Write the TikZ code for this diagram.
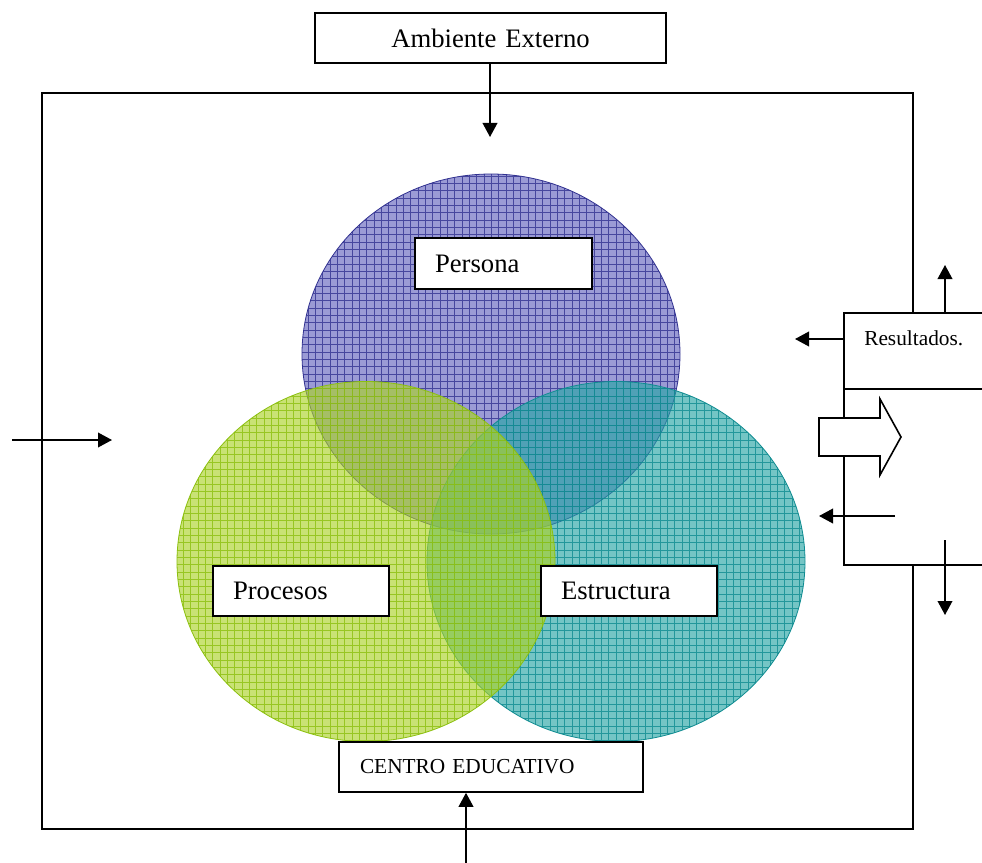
\documentclass[tikz,border=0pt]{standalone}
\usepackage{fontspec}
\setmainfont{Liberation Serif}
\usetikzlibrary{arrows.meta}
\definecolor{pfill}{RGB}{100,100,190}
\definecolor{pline}{RGB}{50,50,145}
\definecolor{gfill}{RGB}{172,210,40}
\definecolor{gline}{RGB}{140,192,15}
\definecolor{tfill}{RGB}{38,165,165}
\definecolor{tline}{RGB}{15,140,145}
\tikzset{
  lbox/.style={draw, line width=1.2pt, fill=white, inner xsep=15pt, inner ysep=0pt, align=left},
  bigfont/.style={font=\fontsize{20}{24}\selectfont},
  smallfont/.style={font=\fontsize{16}{19}\selectfont},
  arr/.style={-{Triangle[length=10.5pt,width=11pt]}, line width=1.2pt},
  frame/.style={line width=1.2pt}
}
\begin{document}
\begin{tikzpicture}[x=0.75pt,y=-0.75pt]
\useasboundingbox (0,0) rectangle (982,863);
\fill[white] (0,0) rectangle (982,863);

% outer frame
\draw[frame] (913,313) -- (913,93) -- (42,93) -- (42,829) -- (913,829) -- (913,565);

% ellipses
\foreach \cx/\cy/\fc/\lc in {491/354/pfill/pline, 616/561.5/tfill/tline, 366/561.5/gfill/gline} {
  \begin{scope}
    \clip (\cx,\cy) ellipse[x radius=141.75pt, y radius=135pt];
    \fill[\fc, fill opacity=0.64] (\cx-200,\cy-200) rectangle (\cx+200,\cy+200);
    \draw[\lc, line width=0.4pt, opacity=0.8, step=5.5pt] (\cx-200,\cy-200) grid (\cx+200,\cy+200);
  \end{scope}
  \draw[\lc, line width=0.6pt] (\cx,\cy) ellipse[x radius=141.75pt, y radius=135pt];
}

% label boxes
\node[lbox, bigfont, align=center, text width=233.25pt, minimum height=37.5pt] (amb) at (490.5,38) {Ambiente Externo};
\node[lbox, bigfont, text width=102.75pt, minimum height=38.25pt] (per) at (503.5,263.5) {Persona};
\node[lbox, bigfont, text width=102pt, minimum height=37.5pt] (pro) at (301,591) {Procesos};
\node[lbox, bigfont, text width=102pt, minimum height=37.5pt] (est) at (629,591) {Estructura};
\node[lbox, smallfont, inner xsep=15.75pt, text width=196.5pt, minimum height=37.5pt] (cen) at (491,767) {CENTRO EDUCATIVO};

% resultados box
\coordinate (rtr) at (982,313);
\coordinate (rtl) at (844,313);
\coordinate (rml) at (844,389);
\coordinate (rmr) at (982,389);
\coordinate (rbl) at (844,565);
\coordinate (rbr) at (982,565);
\draw[frame] (rtr) -- (rtl) -- (rbl) -- (rbr);
\draw[frame] (rml) -- (rmr);
\node[smallfont, anchor=base west, inner sep=0pt] (res) at (864,345) {Resultados.};

% big hollow arrow
\draw[line width=1.2pt, fill=white, line join=miter] (819,418) -- (880,418) -- (880,399) -- (901,437) -- (880,475) -- (880,456) -- (819,456) -- cycle;

% arrows
\coordinate (ambTip) at (490,137);
\draw[arr] (amb.south -| ambTip) -- (ambTip);
\coordinate (inL) at (12,440);
\coordinate (inR) at (112,440);
\draw[arr] (inL) -- (inR);
\coordinate (cenStart) at (466,863);
\draw[arr] (cenStart) -- (cen.south -| cenStart);
\coordinate (upS) at (945,313);
\coordinate (upE) at (945,265);
\draw[arr] (upS) -- (upE);
\coordinate (resL) at (795,339);
\draw[arr] (rtl |- resL) -- (resL);
\coordinate (fbS) at (895,516);
\coordinate (fbE) at (819,516);
\draw[arr] (fbS) -- (fbE);
\coordinate (dnS) at (945,540);
\coordinate (dnE) at (945,615);
\draw[arr] (dnS) -- (dnE);
\end{tikzpicture}
\end{document}
